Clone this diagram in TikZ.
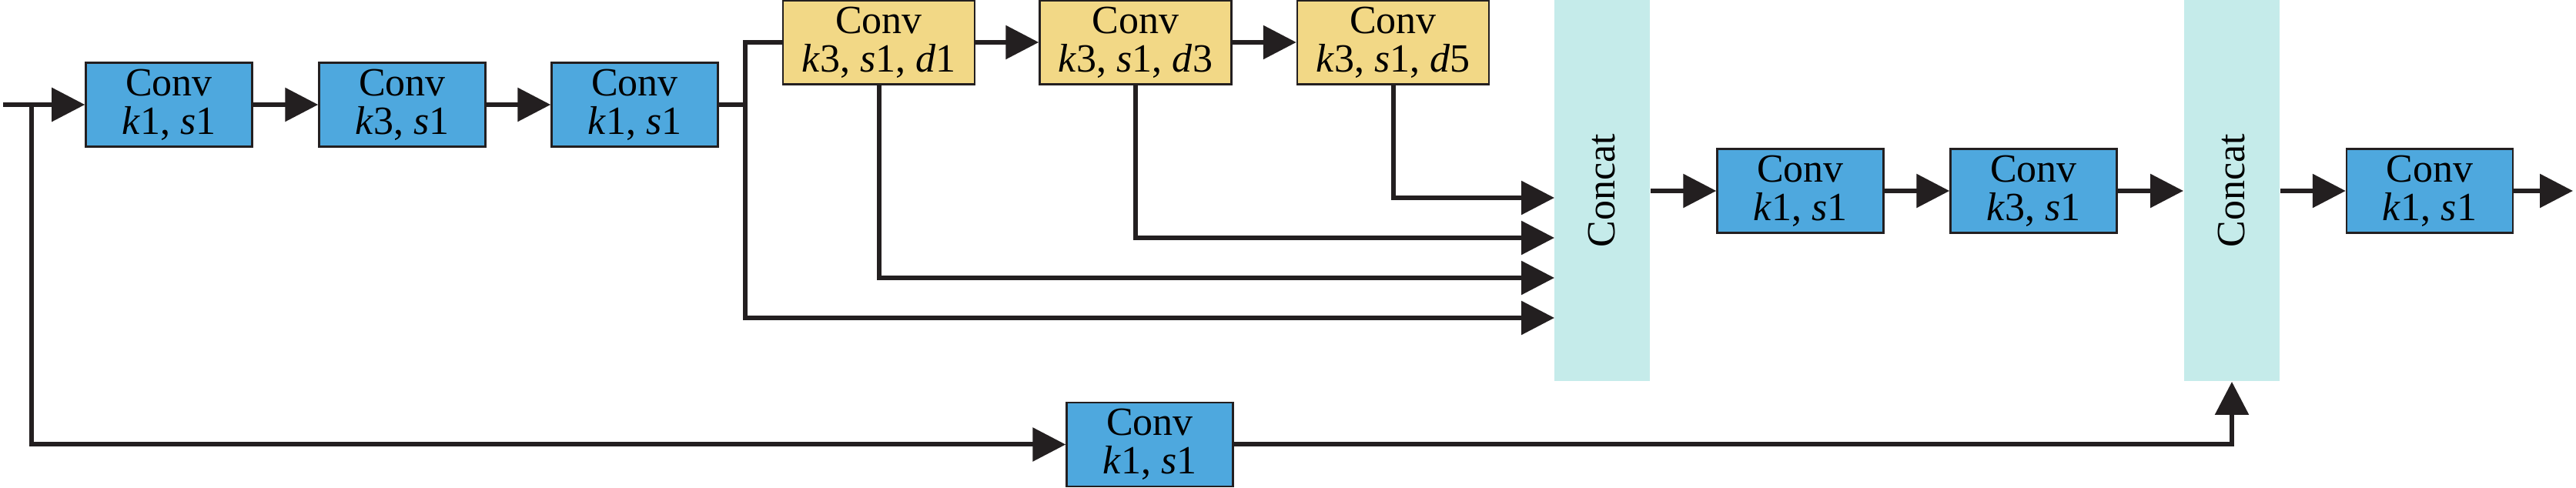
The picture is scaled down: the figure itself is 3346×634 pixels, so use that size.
\documentclass[tikz,border=0pt]{standalone}
\usepackage{fontspec}
\setmainfont{Liberation Serif}
\usetikzlibrary{arrows.meta}
\definecolor{convblue}{RGB}{78,168,222}
\definecolor{dilyellow}{RGB}{242,216,134}
\definecolor{catcyan}{RGB}{197,235,234}
\definecolor{lnblack}{RGB}{35,31,32}
\tikzset{
  conv/.style={draw=lnblack,line width=0.5pt,fill=convblue,minimum width=43.2pt,minimum height=21.8pt,inner sep=0pt,align=center,font=\fontsize{10.4}{10}\selectfont},
  dconv/.style={conv,fill=dilyellow,minimum width=49.8pt},
  cat/.style={fill=catcyan,minimum width=24.8pt,minimum height=99pt,inner sep=0pt},
  cattext/.style={rotate=90,inner sep=0pt,font=\fontsize{10.4}{10}\selectfont},
  link/.style={line width=1.2pt,draw=lnblack},
  flow/.style={link,-{Triangle[length=8.6pt,width=8.6pt]}},
}

\begin{document}
\begin{tikzpicture}[x=0.2pt,y=-0.2pt]
\useasboundingbox (0,0) rectangle (3346,634);
\node[conv] (c1) at (219.5,136) {Conv\\\textit{k}1, \textit{s}1};
\node[conv] (c2) at (522.5,136) {Conv\\\textit{k}3, \textit{s}1};
\node[conv] (c3) at (824.5,136) {Conv\\\textit{k}1, \textit{s}1};
\node[dconv] (d1) at (1141.5,55) {Conv\\\textit{k}3, \textit{s}1, \textit{d}1};
\node[dconv] (d2) at (1475,55) {Conv\\\textit{k}3, \textit{s}1, \textit{d}3};
\node[dconv] (d3) at (1809.5,55) {Conv\\\textit{k}3, \textit{s}1, \textit{d}5};
\node[cat] (cat1) at (2081,247.5) {};
\node[cattext] (t1) at (2081,248) {Concat};
\node[conv] (c4) at (2338.5,248) {Conv\\\textit{k}1, \textit{s}1};
\node[conv] (c5) at (2641.5,248) {Conv\\\textit{k}3, \textit{s}1};
\node[cat] (cat2) at (2899,247.5) {};
\node[cattext] (t2) at (2899,248) {Concat};
\node[conv] (c6) at (3156,248) {Conv\\\textit{k}1, \textit{s}1};
\node[conv] (cb) at (1493.5,577.5) {Conv\\\textit{k}1, \textit{s}1};
\coordinate (in) at (4,136);
\coordinate (sp1) at (41,136);
\coordinate (sp2) at (968,136);
\coordinate (e1) at (2019,257);
\coordinate (e2) at (2019,309);
\coordinate (e3) at (2019,361);
\coordinate (e4) at (2019,413);
\coordinate (out) at (3342,248);
\draw[flow] (in) -- (c1);
\draw[flow] (c1) -- (c2);
\draw[flow] (c2) -- (c3);
\draw[link] (c3) -- (sp2);
\draw[link] (sp2) |- (d1.west);
\draw[flow] (d1) -- (d2);
\draw[flow] (d2) -- (d3);
\draw[flow] (d3.south) |- (e1);
\draw[flow] (d2.south) |- (e2);
\draw[flow] (d1.south) |- (e3);
\draw[flow] (sp2) |- (e4);
\draw[flow] (cat1.east |- c4.west) -- (c4.west);
\draw[flow] (c4) -- (c5);
\draw[flow] (c5.east) -- (cat2.west |- c5.east);
\draw[flow] (cat2.east |- c6.west) -- (c6.west);
\draw[flow] (c6) -- (out);
\draw[flow] (sp1) |- (cb);
\draw[flow] (cb) -| (cat2.south);
\end{tikzpicture}
\end{document}
